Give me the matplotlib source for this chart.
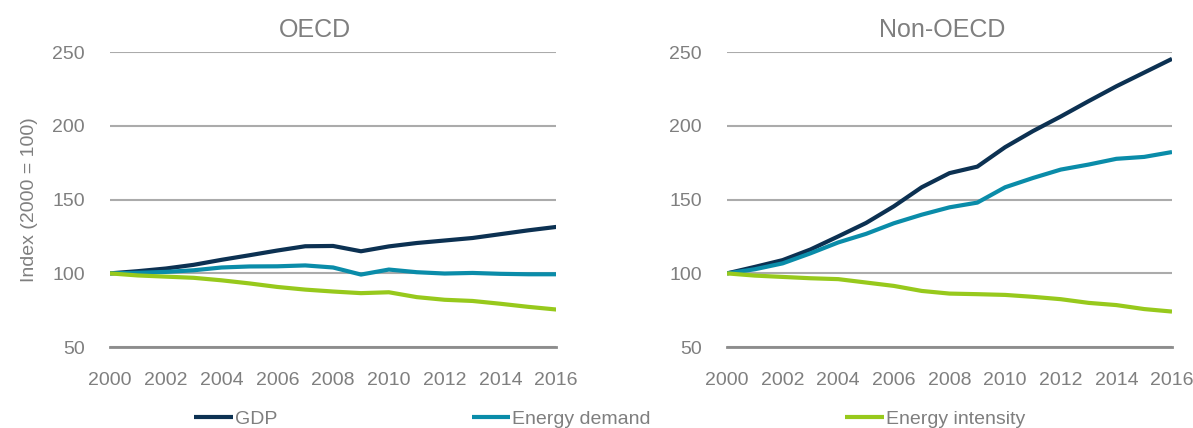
import matplotlib.pyplot as plt

years = list(range(2000, 2017))

# OECD
oecd_gdp = [100, 101.5, 103.3, 105.8, 109.2, 112.3, 115.5, 118.4, 118.6, 115.0, 118.3, 120.6, 122.3, 124.0, 126.6, 129.2, 131.5]
oecd_energy = [100, 100.4, 101.0, 102.1, 104.0, 104.7, 104.8, 105.4, 104.0, 99.2, 102.6, 100.8, 99.9, 100.3, 99.7, 99.4, 99.4]
oecd_intensity = [100, 98.6, 97.8, 97.0, 95.3, 93.2, 90.8, 89.0, 87.7, 86.6, 87.2, 83.9, 82.1, 81.3, 79.4, 77.3, 75.5]

# Non-OECD
non_gdp = [100, 104.4, 109.0, 116.2, 125.1, 134.2, 145.5, 158.4, 168.0, 172.4, 185.6, 196.5, 206.4, 216.8, 226.9, 236.2, 245.5]
non_energy = [100, 102.8, 106.8, 113.6, 121.0, 126.8, 134.0, 139.8, 144.8, 148.0, 158.4, 164.7, 170.4, 173.8, 177.7, 179.0, 182.3]
non_intensity = [100, 98.5, 97.6, 96.7, 96.1, 93.8, 91.5, 88.1, 86.3, 85.9, 85.4, 84.1, 82.5, 80.0, 78.5, 75.8, 74.1]

series_names = ['GDP', 'Energy demand', 'Energy intensity']
colors = ['#0c3152', '#0a8ca9', '#97c91c']
grey = '#7f7f7f'

plt.rcParams['font.family'] = ['Liberation Sans', 'DejaVu Sans']

fig = plt.figure(figsize=(11.93, 4.28), dpi=100)
ax1 = fig.add_axes([0.0922, 0.189, 0.374, 0.689])
ax2 = fig.add_axes([0.6094, 0.189, 0.373, 0.689])

panels = [
    (ax1, 'OECD', 0.46, [oecd_gdp, oecd_energy, oecd_intensity]),
    (ax2, 'Non-OECD', 0.483, [non_gdp, non_energy, non_intensity]),
]

for ax, title, tx, data in panels:
    for vals, name, c in zip(data, series_names, colors):
        ax.plot(years, vals, color=c, lw=3, label=name, solid_capstyle='butt', zorder=3)
    ax.set_xlim(2000, 2016)
    ax.set_ylim(50, 250)
    ax.set_xticks(range(2000, 2017, 2))
    ax.set_yticks([50, 100, 150, 200, 250])
    ax.grid(axis='y', color='#ababab', lw=1.5, zorder=0)
    ax.set_axisbelow(True)
    for s in ['top', 'right', 'left']:
        ax.spines[s].set_visible(False)
    ax.spines['bottom'].set_color('#8c8c8c')
    ax.spines['bottom'].set_linewidth(2)
    ax.tick_params(length=0, labelsize=14, labelcolor=grey)
    ax.tick_params(axis='x', pad=18)
    ax.tick_params(axis='y', pad=18)
    ax.set_title(title, fontsize=18, color=grey, pad=11, x=tx)

ax1.set_ylabel('Index (2000 = 100)', fontsize=14, color=grey, labelpad=10)

handles, labels = ax1.get_legend_handles_labels()
fig.legend(handles, labels, loc='lower center', bbox_to_anchor=(0.511, -0.04), ncol=3,
           frameon=False, fontsize=14, labelcolor=grey, handlelength=2.0,
           handletextpad=0.1, columnspacing=10.0)

fig.savefig('out.png', dpi=100)
